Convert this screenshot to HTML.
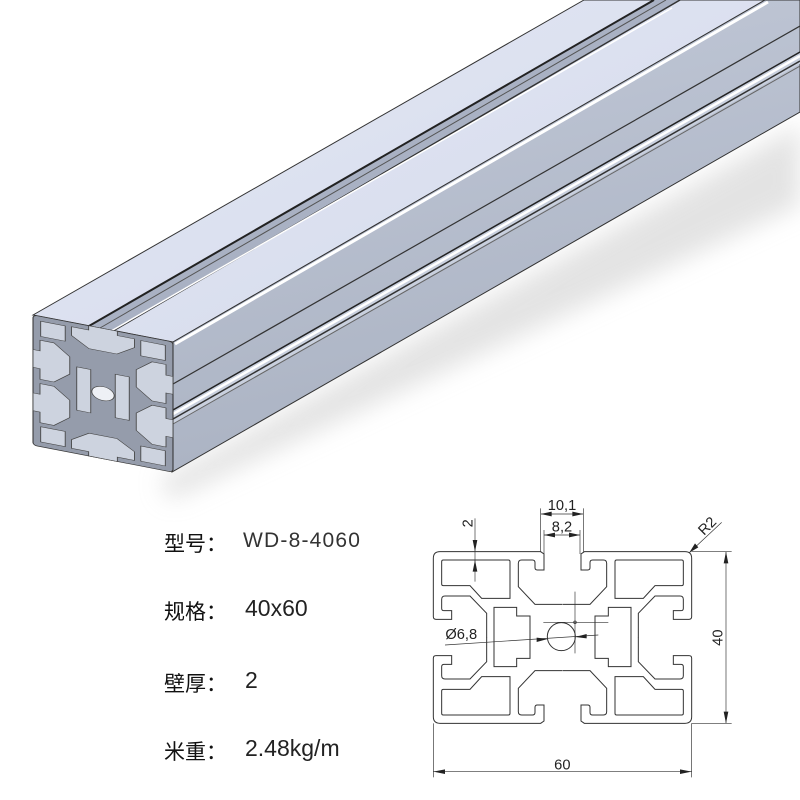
<!DOCTYPE html>
<html><head><meta charset="utf-8"><style>
html,body{margin:0;padding:0;background:#fff;}
body{width:800px;height:800px;position:relative;overflow:hidden;font-family:"Liberation Sans","Noto Sans CJK SC",sans-serif;}
.lb{position:absolute;left:164px;font-size:21px;color:#111;font-family:"Liberation Sans","Noto Sans CJK SC",sans-serif;}
.v{position:absolute;left:245px;font-size:23px;color:#222;}
</style></head><body>
<svg width="800" height="800" style="position:absolute;left:0;top:0">
<defs>
<linearGradient id="tg" x1="0" y1="0" x2="1" y2="1">
<stop offset="0" stop-color="#e4e8f5"/><stop offset="1" stop-color="#d3d9ea"/></linearGradient>
<linearGradient id="sg" x1="0" y1="0" x2="0.3" y2="1">
<stop offset="0" stop-color="#c3cad9"/><stop offset="1" stop-color="#aab2c2"/></linearGradient>
<filter id="bl"><feGaussianBlur stdDeviation="12"/></filter>
</defs>
<polygon points="160,480 800,125 800,205 170,500" fill="#d8d8d8" filter="url(#bl)" opacity="0.7"/>
<polygon points="33,315 584,0 765,0 173,342" fill="url(#tg)" stroke="#333" stroke-width="1"/>
<polygon points="173,342 765,0 800,0 800,112 172,472" fill="url(#sg)" stroke="#333" stroke-width="1"/>
<line x1="175" y1="344" x2="768" y2="2" stroke="#fff" stroke-width="3"/>
<polygon points="89,326 654,0 680,0 113,331" fill="#a9b1c3"/>
<line x1="89" y1="326" x2="654" y2="0" stroke="#222" stroke-width="2"/>
<line x1="100" y1="328" x2="666" y2="0" stroke="#555" stroke-width="1"/>
<line x1="113" y1="331" x2="680" y2="0" stroke="#333" stroke-width="1.5"/>
<line x1="106" y1="334" x2="672" y2="8" stroke="#fff" stroke-width="1.5"/>
<line x1="173" y1="384" x2="800" y2="26" stroke="#333" stroke-width="1.2"/>
<polygon points="173,410 800,52 800,64 173,424" fill="#c9d0de"/>
<line x1="173" y1="410" x2="800" y2="52" stroke="#222" stroke-width="1.5"/>
<line x1="173" y1="414" x2="800" y2="56" stroke="#fff" stroke-width="2.5"/>
<line x1="173" y1="419" x2="800" y2="61" stroke="#333" stroke-width="1.5"/>
<line x1="173" y1="424" x2="800" y2="66" stroke="#666" stroke-width="1"/>
<g transform="matrix(3.5,0.675,0,2.17,33,315)">
<rect x="0" y="0" width="40" height="60" rx="1.2" fill="#959cab" stroke="#333" stroke-width="0.3"/>
<g fill="#cdd3df" stroke="#444" stroke-width="0.25">
<path d="M15.9,0 L24.1,0 L24.1,2 L29,2 L29,6 L24,10.5 L16,10.5 L11,6 L11,2 L15.9,2Z"/>
<path d="M15.9,60 L24.1,60 L24.1,58 L29,58 L29,54 L24,49.5 L16,49.5 L11,54 L11,58 L15.9,58Z"/>
<path d="M0,15.9 L2,15.9 L2,11 L6,11 L10.5,16 L10.5,24 L6,29 L2,29 L2,24.1 L0,24.1Z"/>
<path d="M0,35.9 L2,35.9 L2,31 L6,31 L10.5,36 L10.5,44 L6,49 L2,49 L2,44.1 L0,44.1Z"/>
<path d="M40,15.9 L38,15.9 L38,11 L34,11 L29.5,16 L29.5,24 L34,29 L38,29 L38,24.1 L40,24.1Z"/>
<path d="M40,35.9 L38,35.9 L38,31 L34,31 L29.5,36 L29.5,44 L34,49 L38,49 L38,44.1 L40,44.1Z"/>
<rect x="2.2" y="2.2" width="7" height="7"/>
<rect x="30.8" y="2.2" width="7" height="7"/>
<rect x="2.2" y="50.8" width="7" height="7"/>
<rect x="30.8" y="50.8" width="7" height="7"/>
<rect x="12.5" y="20" width="4" height="20"/>
<rect x="23.5" y="20" width="4" height="20"/>
<circle cx="20" cy="30" r="3.2" fill="#eef0f5"/>
</g>
</g>

<g transform="translate(420,490) scale(0.33333)" fill="none" stroke="#333" stroke-width="3">
<g id="q">
<path d="M200,443 L200,370 L150,318 L75,318 Q65,318 65,328 L65,355 Q65,362 72,362 L95,362 L95,388 L48,388 Q40,388 40,380 L40,205 Q40,185 60,185 L362,185 L372,192 L372,240 L352,240 Q345,240 345,233 L345,218 Q345,210 337,210 L305,210 Q295,210 295,220 L295,290 L345,343 L427,343"/>
<path d="M65,215 Q65,210 70,210 L265,210 Q270,210 270,215 L270,325 L185,325 L150,287 L70,287 Q65,287 65,282Z"/>
</g>
<use href="#q" transform="translate(855,0) scale(-1,1)"/>
<use href="#q" transform="translate(0,885) scale(1,-1)"/>
<use href="#q" transform="translate(855,885) scale(-1,-1)"/>
<path d="M222,352 L290,352 L290,378 L330,378 L330,505 L290,505 L290,530 L222,530Z"/>
<path d="M633,352 L565,352 L565,378 L525,378 L525,505 L565,505 L565,530 L633,530Z"/>
<circle cx="424" cy="440" r="42"/>
<line x1="465" y1="305" x2="465" y2="490" stroke-width="2"/>
<line x1="370" y1="397" x2="565" y2="397" stroke-width="2"/>
<circle cx="465" cy="397" r="4" stroke-width="2"/>
<line x1="75" y1="465" x2="535" y2="435" stroke-width="2"/>
<line x1="40" y1="700" x2="40" y2="862" stroke-width="2"/>
<line x1="815" y1="700" x2="815" y2="862" stroke-width="2"/>
<line x1="40" y1="845" x2="815" y2="845" stroke-width="2"/>
<line x1="815" y1="185" x2="935" y2="185" stroke-width="2"/>
<line x1="815" y1="700" x2="935" y2="700" stroke-width="2"/>
<line x1="918" y1="185" x2="918" y2="700" stroke-width="2"/>
<line x1="362" y1="185" x2="362" y2="55" stroke-width="2"/>
<line x1="490" y1="185" x2="490" y2="55" stroke-width="2"/>
<line x1="362" y1="72" x2="490" y2="72" stroke-width="2"/>
<line x1="372" y1="192" x2="372" y2="120" stroke-width="2"/>
<line x1="480" y1="192" x2="480" y2="120" stroke-width="2"/>
<line x1="372" y1="135" x2="480" y2="135" stroke-width="2"/>
<line x1="165" y1="85" x2="165" y2="275" stroke-width="2"/>
<line x1="808" y1="188" x2="905" y2="97" stroke-width="2"/>
</g>
<g transform="translate(420,490) scale(0.33333)" fill="#222" stroke="none">
<polygon points="40,845 75,838 75,852"/><polygon points="815,845 780,838 780,852"/>
<polygon points="918,185 911,220 925,220"/><polygon points="918,700 911,665 925,665"/>
<polygon points="362,72 395,65 395,79"/><polygon points="490,72 457,65 457,79"/>
<polygon points="372,135 405,128 405,142"/><polygon points="480,135 447,128 447,142"/>
<polygon points="165,185 158,150 172,150"/><polygon points="165,210 158,245 172,245"/>
<polygon points="808,188 825,160 835,172"/>
<polygon points="383,447 350,443 350,456"/><polygon points="466,441 500,432 500,445"/>
<g font-family="Liberation Sans, sans-serif" font-size="44">
<text x="427" y="838" text-anchor="middle">60</text>
<text x="426" y="60" text-anchor="middle">10,1</text>
<text x="426" y="124" text-anchor="middle">8,2</text>
<text x="76" y="447">Ø6,8</text>
<text transform="translate(907,443) rotate(-90)" text-anchor="middle">40</text>
<text transform="translate(158,100) rotate(-90)" text-anchor="middle">2</text>
<text transform="translate(872,118) rotate(-45)" text-anchor="middle">R2</text>
</g>
</g>
</svg>
<div class="lb" style="top:528px">型号：</div><div class="v" style="top:529px;left:243px;font-size:21px;letter-spacing:1.2px;color:#333">WD-8-4060</div>
<div class="lb" style="top:596px">规格：</div><div class="v" style="top:595px">40x60</div>
<div class="lb" style="top:668px">壁厚：</div><div class="v" style="top:667px">2</div>
<div class="lb" style="top:736px">米重：</div><div class="v" style="top:735px">2.48kg/m</div>
</body></html>
